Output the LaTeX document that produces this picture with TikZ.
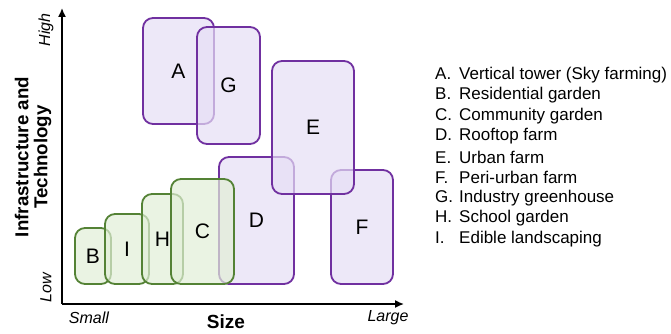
\documentclass[tikz,border=0pt]{standalone}
\usepackage{fontspec}
\setmainfont{Liberation Sans}
\usetikzlibrary{arrows.meta}
\definecolor{violetline}{RGB}{112,48,160}
\definecolor{violetfill}{RGB}{230,222,245}
\definecolor{greenline}{RGB}{84,130,53}
\definecolor{greenfill}{RGB}{225,238,215}
\tikzset{
  farmbox/.style={rectangle,rounded corners=10pt,line width=1.8pt,fill opacity=.7,text opacity=1,inner sep=0pt,font=\fontsize{21}{25}\selectfont},
  violetbox/.style={farmbox,draw=violetline,fill=violetfill},
  greenbox/.style={farmbox,draw=greenline,fill=greenfill},
  legend/.style={anchor=west,inner sep=0pt,font=\fontsize{17}{20}\selectfont}
}
\newcommand{\legitem}[2]{\makebox[24pt][l]{#1}#2}
\begin{document}
\begin{tikzpicture}[x=1pt,y=-1pt]
\path[use as bounding box] (0,0) rectangle (671,334);
% axes
\coordinate (o) at (62,304);
\coordinate (ytop) at (62,8);
\coordinate (xend) at (404,304);
\draw[line width=1.5pt,-{Latex[length=9pt,width=8pt]}] (o) -- (ytop);
\draw[line width=1.5pt,-{Latex[length=9pt,width=8pt]}] (o) -- (xend);
\node[rotate=90,font=\fontsize{16}{19}\selectfont\itshape] (high) at (46,30) {High};
\node[rotate=90,font=\fontsize{16}{19}\selectfont\itshape] (low) at (46,288) {Low};
\node[rotate=90,align=center,font=\fontsize{18.7}{19}\selectfont\bfseries] (ylab) at (33,157) {Infrastructure and\\Technology};
\node[font=\fontsize{16}{19}\selectfont\itshape] (small) at (89,318) {Small};
\node[font=\fontsize{16}{19}\selectfont\itshape] (large) at (388,318) {Large};
\node[font=\fontsize{19}{22}\selectfont\bfseries] (xlab) at (226,322) {Size};
% boxes, back to front
\node[violetbox,minimum width=71pt,minimum height=106pt] (A) at (178.5,71) {A};
\node[violetbox,minimum width=63pt,minimum height=117pt] (G) at (228.5,85.5) {G};
\node[violetbox,minimum width=62pt,minimum height=114pt] (F) at (362,227) {F};
\node[violetbox,minimum width=75pt,minimum height=127pt] (D) at (256.5,220.5) {D};
\node[violetbox,minimum width=82pt,minimum height=133pt] (E) at (313,127.5) {E};
\node[greenbox,minimum width=36pt,minimum height=56pt] (B) at (93,256) {B};
\node[greenbox,minimum width=44pt,minimum height=70pt] (I) at (127,249) {I};
\node[greenbox,minimum width=41pt,minimum height=90pt] (H) at (162.5,239) {H};
\node[greenbox,minimum width=63pt,minimum height=105pt] (C) at (202.5,231.5) {C};
% legend
\node[legend] (legA) at (435,75) {\legitem{A.}{Vertical tower (Sky farming)}};
\node[legend] (legB) at (435,95.5) {\legitem{B.}{Residential garden}};
\node[legend] (legC) at (435,116) {\legitem{C.}{Community garden}};
\node[legend] (legD) at (435,136.5) {\legitem{D.}{Rooftop farm}};
\node[legend] (legE) at (435,157) {\legitem{E.}{Urban farm}};
\node[legend] (legF) at (435,177.5) {\legitem{F.}{Peri-urban farm}};
\node[legend] (legG) at (435,198) {\legitem{G.}{Industry greenhouse}};
\node[legend] (legH) at (435,218.5) {\legitem{H.}{School garden}};
\node[legend] (legI) at (435,239) {\legitem{I.}{Edible landscaping}};
\end{tikzpicture}
\end{document}
